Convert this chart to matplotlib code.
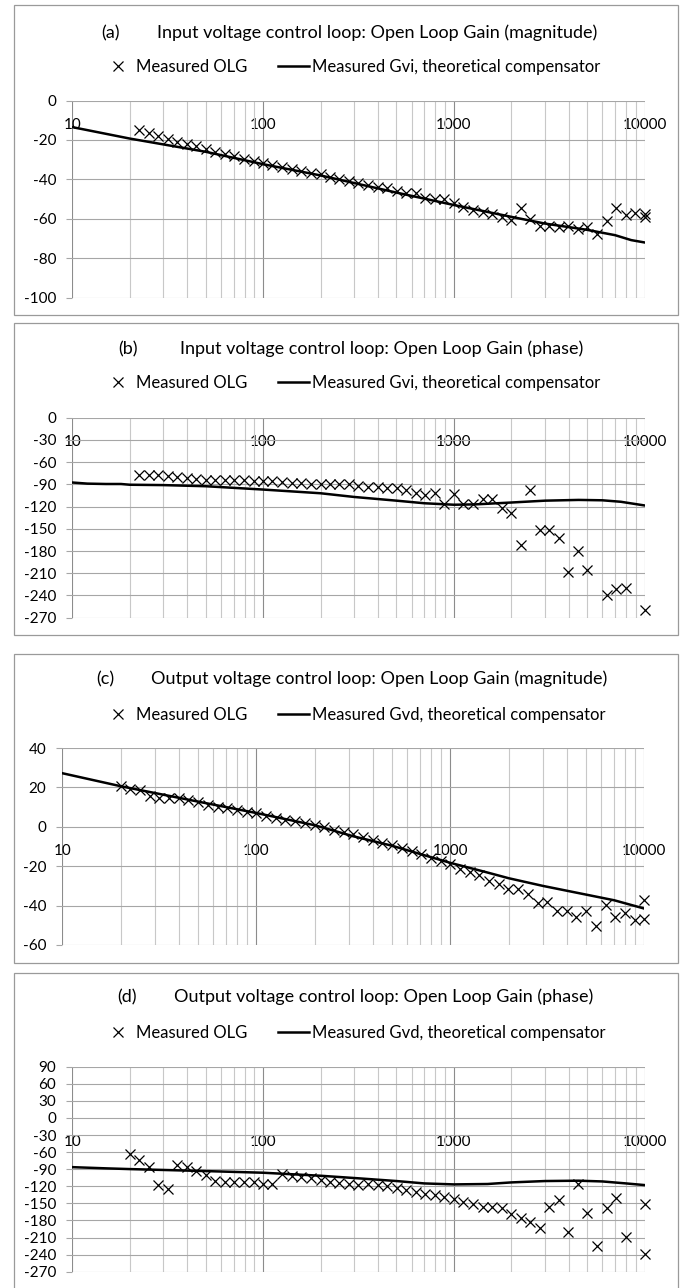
import matplotlib.pyplot as plt
from matplotlib.ticker import LogLocator, FixedLocator, NullFormatter, FuncFormatter
from matplotlib.patches import Rectangle

plt.rcParams['font.family'] = ['Lato', 'DejaVu Sans']
plt.rcParams['axes.unicode_minus'] = False

W, H = 686, 1288

# ---- data ----
# (a) input loop, magnitude [dB]
freq_a = [22.4, 25.1, 28.2, 31.6, 35.5, 39.8, 44.7, 50.1, 56.2, 63.1, 70.8, 79.4, 89.1,
          100, 112, 126, 141, 158, 178, 200, 224, 251, 282, 316, 355, 398, 447, 501, 562,
          631, 708, 794, 891, 1000, 1122, 1259, 1413, 1585, 1778, 1995, 2239, 2512, 2818,
          3162, 3548, 3981, 4467, 5012, 5623, 6310, 7079, 7943, 8913, 10000, 10000]
olg_a = [-15.0, -16.3, -18.0, -19.5, -21.1, -22.1, -23.3, -24.8, -26.0, -27.0, -28.2, -29.5, -30.5,
         -31.6, -32.6, -33.6, -34.6, -35.6, -36.6, -37.5, -39.0, -40.0, -40.7, -41.7, -42.6, -43.7,
         -44.6, -45.8, -46.8, -47.1, -49.2, -50.2, -49.7, -51.9, -54.2, -55.6, -56.4, -57.8, -59.0,
         -60.7, -54.6, -60.3, -63.7, -63.7, -64.0, -63.7, -65.4, -64.0, -67.8, -61.2, -54.7, -58.1,
         -56.9, -57.6, -59.0]
fline_a = [10, 20, 50, 100, 200, 500, 1000, 2000, 3000, 5000, 7000, 8500, 10000]
gvi_mag = [-13.5, -19.3, -26.0, -32.3, -38.0, -46.7, -53.0, -59.0, -62.4, -65.6, -68.3, -70.8, -72.0]

# (b) input loop, phase [deg]
freq_b = [22.4, 25.1, 28.2, 31.6, 35.5, 39.8, 44.7, 50.1, 56.2, 63.1, 70.8, 79.4, 89.1,
          100, 112, 126, 141, 158, 178, 200, 224, 251, 282, 316, 355, 398, 447, 501, 562,
          631, 708, 794, 891, 1000, 1122, 1259, 1413, 1585, 1778, 1995, 2239, 2512, 2818,
          3162, 3548, 3981, 4467, 5012, 6310, 7079, 7943, 10000]
olg_b = [-78, -77, -77, -79, -80, -81, -83, -84, -84, -84, -84, -84, -85,
         -86, -86, -87, -88, -88, -89, -89, -89, -90, -90, -92, -94, -94, -95, -95, -97,
         -102, -104, -102, -117, -103, -116, -116, -110, -110, -122, -128, -172, -97, -152,
         -152, -163, -208, -180, -205, -240, -231, -230, -259]
fline_b = [10, 12, 15, 18, 20, 30, 50, 100, 200, 300, 500, 700, 1000, 1300, 2000, 3000,
           4500, 6000, 7500, 10000]
gvi_ph = [-87.5, -89, -89.5, -89.5, -90.5, -91, -92.5, -97, -102, -107, -112, -115.5,
          -117.5, -117, -114.5, -112, -111, -111.5, -113.5, -118.5]

# (c) output loop, magnitude [dB]
freq_c = [20.0, 22.4, 25.1, 28.2, 31.6, 35.5, 39.8, 44.7, 50.1, 56.2, 63.1, 70.8, 79.4, 89.1,
          100, 112, 126, 141, 158, 178, 200, 224, 251, 282, 316, 355, 398, 447, 501, 562,
          631, 708, 794, 891, 1000, 1122, 1259, 1413, 1585, 1778, 1995, 2239, 2512, 2818,
          3162, 3548, 3981, 4467, 5012, 5623, 6310, 7079, 7943, 8913, 10000, 10000]
olg_c = [20.6, 19.1, 18.6, 15.6, 14.7, 14.7, 14.7, 13.5, 12.4, 11.0, 10.0, 9.3, 8.3, 7.6,
         6.8, 5.6, 4.6, 3.7, 2.9, 1.7, 0.8, -0.3, -1.4, -2.5, -3.9, -5.3, -6.6, -8.1, -9.3,
         -10.7, -12.4, -14.0, -15.7, -17.4, -19.1, -21.2, -22.8, -24.5, -27.6, -29.1, -31.6,
         -31.6, -34.3, -38.6, -38.1, -42.8, -42.8, -45.7, -42.8, -50.4, -39.8, -45.7, -44.0,
         -47.4, -46.9, -37.2]
fline_c = [10, 20, 50, 100, 200, 316, 500, 1000, 1500, 2000, 3000, 5000, 7000, 10000]
gvd_mag = [27.2, 20.6, 12.8, 7.0, 0.8, -4.8, -9.6, -18.3, -22.8, -26.1, -30.0, -34.4, -37.3, -41.5]

# (d) output loop, phase [deg]
freq_d = [20.0, 22.4, 25.1, 28.2, 31.6, 35.5, 39.8, 44.7, 50.1, 56.2, 63.1, 70.8, 79.4, 89.1,
          100, 112, 126, 141, 158, 178, 200, 224, 251, 282, 316, 355, 398, 447, 501, 562,
          631, 708, 794, 891, 1000, 1122, 1259, 1413, 1585, 1778, 1995, 2239, 2512, 2818,
          3162, 3548, 3981, 4467, 5012, 5623, 6310, 7079, 7943, 10000, 10000]
olg_d = [-64, -74.5, -85.7, -118.4, -124.3, -82.7, -85.7, -93.9, -100.3, -110.8, -113.2, -113.2,
         -113.2, -113.2, -116.7, -115.5, -99.2, -102.0, -103.8, -106.2, -109.7, -112.0, -114.3,
         -116.7, -118.5, -116.7, -117.9, -119.0, -123.7, -126.0, -129.6, -133.0, -135.4, -139.5,
         -142.4, -147.1, -150.6, -155.9, -156.5, -158.8, -168.2, -176.4, -182.3, -192.8, -155.9,
         -144.2, -199.8, -115.5, -167.6, -225.0, -158.8, -141.3, -208.6, -151.8, -239.6]
fline_d = [10, 15, 20, 50, 100, 200, 316, 500, 700, 1000, 1500, 2000, 3000, 4500, 6000, 8000, 10000]
gvd_ph = [-86.4, -88.5, -89.8, -93.3, -96.2, -101.5, -106, -110.8, -115, -116.7, -116, -113.2,
          -110.8, -110.2, -111.5, -115, -117.9]

x_ticks = [10, 100, 1000, 10000]

# panel layout in pixels: box (top, bottom), plot area (left, right, top, bottom)
panels = [
    dict(tag='(a)', title='Input voltage control loop: Open Loop Gain (magnitude)',
         tag_x=111, title_x=157, title_y=32, leg_y=67, box=(5, 315),
         area=(72.3, 644.7, 100.5, 297.7), ylim=(-100, 0), ystep=20,
         f=freq_a, y=olg_a, fl=fline_a, yl=gvi_mag, name='Measured Gvi, theoretical compensator'),
    dict(tag='(b)', title='Input voltage control loop: Open Loop Gain (phase)',
         tag_x=128, title_x=180, title_y=348, leg_y=383, box=(323, 635),
         area=(72.3, 644.7, 417.7, 617.7), ylim=(-270, 0), ystep=30,
         f=freq_b, y=olg_b, fl=fline_b, yl=gvi_ph, name='Measured Gvi, theoretical compensator'),
    dict(tag='(c)', title='Output voltage control loop: Open Loop Gain (magnitude)',
         tag_x=105, title_x=151, title_y=678, leg_y=715, box=(654, 963),
         area=(62.3, 644.3, 748, 945), ylim=(-60, 40), ystep=20,
         f=freq_c, y=olg_c, fl=fline_c, yl=gvd_mag, name='Measured Gvd, theoretical compensator'),
    dict(tag='(d)', title='Output voltage control loop: Open Loop Gain (phase)',
         tag_x=127, title_x=174, title_y=996, leg_y=1033, box=(972.7, 1300),
         area=(72.3, 644.7, 1066.7, 1271.7), ylim=(-270, 90), ystep=30,
         f=freq_d, y=olg_d, fl=fline_d, yl=gvd_ph, name='Measured Gvd, theoretical compensator'),
]

fig = plt.figure(figsize=(W / 100, H / 100), dpi=100)

for p in panels:
    # outer chart frame
    bt, bb = p['box']
    fig.patches.append(Rectangle((14 / W, 1 - bb / H), (678 - 14) / W, (bb - bt) / H,
                                 transform=fig.transFigure, fill=False,
                                 edgecolor='#9a9a9a', linewidth=0.9))
    l, r, t, b = p['area']
    ax = fig.add_axes([l / W, 1 - b / H, (r - l) / W, (b - t) / H])
    ax.set_xscale('log')
    ax.set_xlim(10, 10000)
    ax.set_ylim(*p['ylim'])
    ax.xaxis.set_major_locator(FixedLocator(x_ticks))
    ax.xaxis.set_minor_locator(LogLocator(base=10, subs=range(2, 10)))
    ax.xaxis.set_major_formatter(FuncFormatter(lambda v, pos: '%d' % v))
    ax.xaxis.set_minor_formatter(NullFormatter())
    ax.set_yticks(range(p['ylim'][0], p['ylim'][1] + 1, p['ystep']))
    for s in ax.spines.values():
        s.set_visible(False)
    ax.spines['bottom'].set_position(('data', 0))
    ax.tick_params(axis='x', which='both', length=0, labelsize=11, pad=12.5)
    ax.tick_params(axis='y', length=4.5, width=0.8, color='#a6a6a6', labelsize=11, pad=7)
    ax.grid(True, axis='x', which='major', color='#8c8c8c', linewidth=0.8)
    ax.grid(True, axis='x', which='minor', color='#c8c8c8', linewidth=0.8)
    ax.grid(True, axis='y', which='major', color='#a6a6a6', linewidth=0.8)
    ax.set_axisbelow(True)

    m, = ax.plot(p['f'], p['y'], linestyle='none', marker='x', markersize=6.5,
                 markeredgewidth=0.9, color='black', label='Measured OLG', clip_on=False)
    ln, = ax.plot(p['fl'], p['yl'], color='black', linewidth=1.8, label=p['name'])

    base = 1 - (p['title_y'] + 6) / H
    fig.text(p['tag_x'] / W, base, p['tag'], ha='center', va='baseline', fontsize=13)
    fig.text(p['title_x'] / W, base, p['title'], ha='left', va='baseline', fontsize=13)
    fig.legend(handles=[m, ln], loc='center left', bbox_to_anchor=(102.4 / W, 1 - p['leg_y'] / H),
               ncol=2, frameon=False, fontsize=12, handlelength=1.83, handletextpad=0.18,
               columnspacing=1.86, borderaxespad=0, borderpad=0)

fig.savefig('out.png', dpi=100)
